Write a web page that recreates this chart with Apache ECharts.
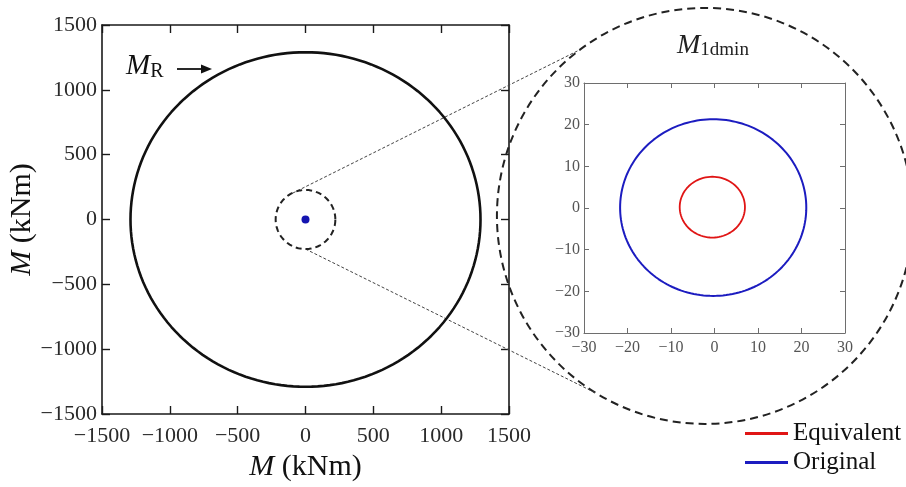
<!DOCTYPE html>
<html>
<head>
<meta charset="utf-8">
<script src="https://cdn.jsdelivr.net/npm/echarts@6/dist/echarts.min.js"></script>
<style>
  html, body { margin: 0; padding: 0; background: #fff; }
  #chart { width: 906px; height: 487px; }
</style>
</head>
<body>
<div id="chart"></div>
<script>
// axis ranges (kNm)
var mainRange = [-1500, 1500]
var mainStep = 500
var insetRange = [-30, 30]
var insetStep = 10

// circles: [cx, cy, rx, ry]
var resistanceCircle = [0, 0, 1290, 1290]
var zoomCircle = [0, 0, 220, 228]
var equivalentCircle = [-0.5, 0.2, 7.5, 7.3]
var originalCircle = [-0.3, 0.1, 21.4, 21.2]
var minMomentPoint = [[0, 0]]

// callout: centre in inset coords, connector angles (deg) on zoom circle / big circle
var calloutCenter = [-2.2, -1.9]
var connectorFrom = [125, 270]
var connectorTo = [127, 238.5]

var serif = 'Liberation Serif'

function ellipse (c) {
  var pts = []
  for (var i = 0; i <= 180; i++) {
    var a = i / 180 * Math.PI * 2
    pts.push([c[0] + c[2] * Math.cos(a), c[1] + c[3] * Math.sin(a)])
  }
  return pts
}

function tickText (v) {
  return String(v).replace('-', '\u2212')
}

function axisPair (dim, gridIndex, range, step, big) {
  var lineCol = big ? '#1a1a1a' : '#6e6e6e'
  var base = {
    gridIndex: gridIndex,
    type: 'value',
    min: range[0],
    max: range[1],
    interval: step,
    splitLine: { show: false },
    axisLine: { show: true, onZero: false, lineStyle: { color: lineCol, width: big ? 1.6 : 1 } },
    axisTick: { show: true, inside: true, length: big ? 8 : 5, lineStyle: { color: lineCol, width: big ? 1.4 : 1 } }
  }
  var gap
  if (big) gap = dim === 'x' ? 11 : 5
  else gap = dim === 'x' ? 7 : 4
  var main = echarts.util.merge({
    position: dim === 'x' ? 'bottom' : 'left',
    axisLabel: {
      show: true,
      formatter: tickText,
      fontFamily: serif,
      fontSize: big ? 22 : 16,
      color: big ? '#2a2a2a' : '#555',
      margin: gap
    }
  }, base, true)
  var mirror = echarts.util.merge({
    position: dim === 'x' ? 'top' : 'right',
    axisLabel: { show: false }
  }, base, true)
  return [main, mirror]
}

var xAxes = axisPair('x', 0, mainRange, mainStep, true).concat(axisPair('x', 1, insetRange, insetStep, false))
var yAxes = axisPair('y', 0, mainRange, mainStep, true).concat(axisPair('y', 1, insetRange, insetStep, false))

var nameStyle = {
  fontFamily: serif,
  fontSize: 30,
  color: '#111',
  rich: { i: { fontFamily: serif, fontSize: 30, fontStyle: 'italic', color: '#111' } }
}
xAxes[0].name = '{i|M} (kNm)'
xAxes[0].nameLocation = 'middle'
xAxes[0].nameGap = 37
xAxes[0].nameTextStyle = nameStyle
yAxes[0].name = '{i|M} (kNm)'
yAxes[0].nameLocation = 'middle'
yAxes[0].nameGap = 60
yAxes[0].nameTextStyle = nameStyle

var chart = echarts.init(document.getElementById('chart'))

chart.setOption({
  animation: false,
  backgroundColor: '#fff',
  grid: [
    { left: 102, top: 25, width: 407, height: 389 },
    { left: 584, top: 83, width: 261, height: 250 }
  ],
  xAxis: xAxes,
  yAxis: yAxes,
  legend: {
    orient: 'vertical',
    left: 740,
    top: 416,
    icon: 'rect',
    itemWidth: 43,
    itemHeight: 3,
    itemGap: 4,
    textStyle: { fontFamily: serif, fontSize: 25, color: '#111' },
    data: ['Equivalent', 'Original']
  },
  series: [
    {
      name: 'M_R',
      type: 'line',
      xAxisIndex: 0,
      yAxisIndex: 0,
      showSymbol: false,
      data: ellipse(resistanceCircle),
      lineStyle: { color: '#111', width: 2.6 }
    },
    {
      name: 'zoom',
      type: 'line',
      xAxisIndex: 0,
      yAxisIndex: 0,
      showSymbol: false,
      data: ellipse(zoomCircle),
      lineStyle: { color: '#222', width: 2, type: [6, 4] }
    },
    {
      name: 'M1dmin',
      type: 'scatter',
      xAxisIndex: 0,
      yAxisIndex: 0,
      symbolSize: 8,
      data: minMomentPoint,
      itemStyle: { color: '#1414b0', opacity: 1 }
    },
    {
      name: 'Equivalent',
      type: 'line',
      xAxisIndex: 2,
      yAxisIndex: 2,
      showSymbol: false,
      data: ellipse(equivalentCircle),
      itemStyle: { color: '#e01515' },
      lineStyle: { color: '#e01515', width: 1.8 }
    },
    {
      name: 'Original',
      type: 'line',
      xAxisIndex: 2,
      yAxisIndex: 2,
      showSymbol: false,
      data: ellipse(originalCircle),
      itemStyle: { color: '#1c1cc0' },
      lineStyle: { color: '#1c1cc0', width: 2 }
    }
  ]
})

// callout circle and connectors, placed from the grids' own scales
var bigC = chart.convertToPixel({ gridIndex: 1 }, calloutCenter)
var bigR = 208
var graphics = [
  {
    type: 'circle',
    z: 1,
    shape: { cx: bigC[0], cy: bigC[1], r: bigR },
    style: { fill: null, stroke: '#222', lineWidth: 2, lineDash: [8, 5] }
  }
]
for (var k = 0; k < 2; k++) {
  var a1 = connectorFrom[k] * Math.PI / 180
  var p1 = chart.convertToPixel({ gridIndex: 0 }, [
    zoomCircle[0] + zoomCircle[2] * Math.cos(a1),
    zoomCircle[1] + zoomCircle[3] * Math.sin(a1)
  ])
  var a2 = connectorTo[k] * Math.PI / 180
  var p2 = [bigC[0] + bigR * Math.cos(a2), bigC[1] - bigR * Math.sin(a2)]
  graphics.push({
    type: 'line',
    z: 1,
    shape: { x1: p1[0], y1: p1[1], x2: p2[0], y2: p2[1] },
    style: { stroke: '#444', lineWidth: 1, lineDash: [3, 2] }
  })
}

// M_R label with arrow
graphics.push({
  type: 'text',
  z: 10,
  left: 126,
  top: 52,
  style: {
    text: '{m|M}{s|R}',
    rich: {
      m: { fontFamily: serif, fontSize: 29, fontStyle: 'italic', fill: '#111' },
      s: { fontFamily: serif, fontSize: 20, fill: '#111', padding: [10, 0, 0, 0] }
    }
  }
})
graphics.push({
  type: 'line',
  z: 10,
  shape: { x1: 177, y1: 69, x2: 204, y2: 69 },
  style: { stroke: '#111', lineWidth: 1.8 }
})
graphics.push({
  type: 'polygon',
  z: 10,
  shape: { points: [[212, 69], [201, 64.5], [201, 73.5]] },
  style: { fill: '#111' }
})

// inset title
graphics.push({
  type: 'text',
  z: 10,
  left: 677,
  top: 32,
  style: {
    text: '{m|M}{s|1dmin}',
    rich: {
      m: { fontFamily: serif, fontSize: 28, fontStyle: 'italic', fill: '#222' },
      s: { fontFamily: serif, fontSize: 19, fill: '#222', padding: [9, 0, 0, 0] }
    }
  }
})

chart.setOption({ graphic: graphics })
</script>
</body>
</html>
